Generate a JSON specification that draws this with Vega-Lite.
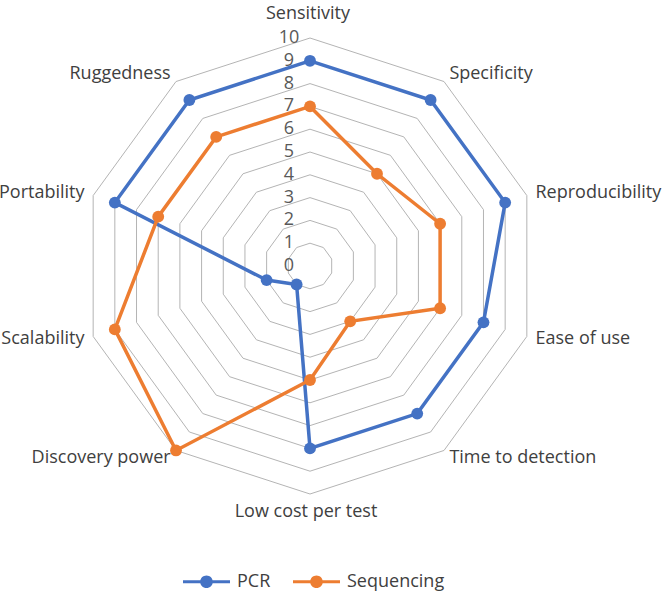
{
  "$schema": "https://vega.github.io/schema/vega-lite/v6.json",
  "width": 456,
  "height": 456,
  "autosize": "none",
  "padding": {"left": 82, "top": 38, "right": 128, "bottom": 102},
  "background": "white",
  "config": {"view": {"stroke": null}, "font": "Open Sans"},
  "datasets": {
    "scores": [
      {"axis": "Sensitivity", "series": "PCR", "value": 9},
      {"axis": "Specificity", "series": "PCR", "value": 9},
      {"axis": "Reproducibility", "series": "PCR", "value": 9},
      {"axis": "Ease of use", "series": "PCR", "value": 8},
      {"axis": "Time to detection", "series": "PCR", "value": 8},
      {"axis": "Low cost per test", "series": "PCR", "value": 8},
      {"axis": "Discovery power", "series": "PCR", "value": 1},
      {"axis": "Scalability", "series": "PCR", "value": 2},
      {"axis": "Portability", "series": "PCR", "value": 9},
      {"axis": "Ruggedness", "series": "PCR", "value": 9},
      {"axis": "Sensitivity", "series": "Sequencing", "value": 7},
      {"axis": "Specificity", "series": "Sequencing", "value": 5},
      {"axis": "Reproducibility", "series": "Sequencing", "value": 6},
      {"axis": "Ease of use", "series": "Sequencing", "value": 6},
      {"axis": "Time to detection", "series": "Sequencing", "value": 3},
      {"axis": "Low cost per test", "series": "Sequencing", "value": 5},
      {"axis": "Discovery power", "series": "Sequencing", "value": 10},
      {"axis": "Scalability", "series": "Sequencing", "value": 9},
      {"axis": "Portability", "series": "Sequencing", "value": 7},
      {"axis": "Ruggedness", "series": "Sequencing", "value": 7}
    ],
    "grid": [
      {"level": [1, 2, 3, 4, 5, 6, 7, 8, 9, 10],
       "axis": ["Sensitivity", "Specificity", "Reproducibility", "Ease of use", "Time to detection", "Low cost per test", "Discovery power", "Scalability", "Portability", "Ruggedness"]}
    ],
    "ticks": [
      {"level": 0}, {"level": 1}, {"level": 2}, {"level": 3}, {"level": 4}, {"level": 5},
      {"level": 6}, {"level": 7}, {"level": 8}, {"level": 9}, {"level": 10}
    ],
    "axes": [
      {"axis": "Sensitivity"}, {"axis": "Specificity"}, {"axis": "Reproducibility"}, {"axis": "Ease of use"},
      {"axis": "Time to detection"}, {"axis": "Low cost per test"}, {"axis": "Discovery power"},
      {"axis": "Scalability"}, {"axis": "Portability"}, {"axis": "Ruggedness"}
    ]
  },
  "layer": [
    {
      "data": {"name": "grid"},
      "transform": [
        {"flatten": ["level"]},
        {"flatten": ["axis"]},
        {"calculate": "indexof(['Sensitivity','Specificity','Reproducibility','Ease of use','Time to detection','Low cost per test','Discovery power','Scalability','Portability','Ruggedness'], datum.axis)", "as": "i"},
        {"calculate": "datum.level * sin(2 * PI * datum.i / 10)", "as": "x"},
        {"calculate": "datum.level * cos(2 * PI * datum.i / 10)", "as": "y"}
      ],
      "mark": {"type": "line", "interpolate": "linear-closed", "stroke": "#b4b4b4", "strokeWidth": 1},
      "encoding": {
        "x": {"field": "x", "type": "quantitative", "scale": {"domain": [-10, 10], "nice": false, "zero": false}, "axis": null},
        "y": {"field": "y", "type": "quantitative", "scale": {"domain": [-10, 10], "nice": false, "zero": false}, "axis": null},
        "detail": {"field": "level", "type": "nominal"},
        "order": {"field": "i", "type": "quantitative"}
      }
    },
    {
      "data": {"name": "ticks"},
      "mark": {"type": "text", "align": "center", "baseline": "middle", "dx": -21, "fontSize": 18, "color": "#595959"},
      "encoding": {
        "x": {"datum": 0, "type": "quantitative"},
        "y": {"field": "level", "type": "quantitative"},
        "text": {"field": "level", "type": "quantitative"}
      }
    },
    {
      "data": {"name": "scores"},
      "transform": [
        {"calculate": "indexof(['Sensitivity','Specificity','Reproducibility','Ease of use','Time to detection','Low cost per test','Discovery power','Scalability','Portability','Ruggedness'], datum.axis)", "as": "i"},
        {"calculate": "datum.value * sin(2 * PI * datum.i / 10)", "as": "x"},
        {"calculate": "datum.value * cos(2 * PI * datum.i / 10)", "as": "y"}
      ],
      "layer": [
        {
          "mark": {"type": "line", "interpolate": "linear-closed", "strokeWidth": 3.5},
          "encoding": {
            "x": {"field": "x", "type": "quantitative"},
            "y": {"field": "y", "type": "quantitative"},
            "color": {"field": "series", "type": "nominal", "scale": {"domain": ["PCR", "Sequencing"], "range": ["#4472C4", "#ED7D31"]}},
            "order": {"field": "i", "type": "quantitative"}
          }
        },
        {
          "mark": {"type": "circle", "size": 140, "opacity": 1},
          "encoding": {
            "x": {"field": "x", "type": "quantitative"},
            "y": {"field": "y", "type": "quantitative"},
            "color": {"field": "series", "type": "nominal",
              "legend": {"orient": "none", "direction": "horizontal", "legendX": 101, "legendY": 520, "title": null,
                "padding": 0,
                "symbolType": "M-1,-0.065L1,-0.065L1,0.065L-1,0.065ZM0.27,0A0.27,0.27,0,1,1,-0.27,0A0.27,0.27,0,1,1,0.27,0Z",
                "symbolSize": 2209, "symbolStrokeWidth": 0, "symbolOpacity": 1,
                "labelFontSize": 18, "labelColor": "#404040", "labelOffset": 7, "columnPadding": 22}}
          }
        }
      ]
    },
    {
      "data": {"name": "axes"},
      "transform": [
        {"calculate": "indexof(['Sensitivity','Specificity','Reproducibility','Ease of use','Time to detection','Low cost per test','Discovery power','Scalability','Portability','Ruggedness'], datum.axis)", "as": "i"},
        {"calculate": "10.4 * sin(2 * PI * datum.i / 10)", "as": "x"},
        {"calculate": "10.4 * cos(2 * PI * datum.i / 10)", "as": "y"}
      ],
      "layer": [
        {
          "transform": [{"filter": "datum.i == 0"}],
          "mark": {"type": "text", "align": "center", "baseline": "middle", "dy": -15, "dx": -2, "fontSize": 18, "color": "#404040"},
          "encoding": {"x": {"field": "x", "type": "quantitative"}, "y": {"field": "y", "type": "quantitative"}, "text": {"field": "axis"}}
        },
        {
          "transform": [{"filter": "datum.i == 5"}],
          "mark": {"type": "text", "align": "center", "baseline": "middle", "dy": 9, "dx": -4, "fontSize": 18, "color": "#404040"},
          "encoding": {"x": {"field": "x", "type": "quantitative"}, "y": {"field": "y", "type": "quantitative"}, "text": {"field": "axis"}}
        },
        {
          "transform": [{"filter": "datum.i >= 1 && datum.i <= 4"}],
          "mark": {"type": "text", "align": "left", "baseline": "middle", "fontSize": 18, "color": "#404040"},
          "encoding": {"x": {"field": "x", "type": "quantitative"}, "y": {"field": "y", "type": "quantitative"}, "text": {"field": "axis"}}
        },
        {
          "transform": [{"filter": "datum.i >= 6"}],
          "mark": {"type": "text", "align": "right", "baseline": "middle", "fontSize": 18, "color": "#404040"},
          "encoding": {"x": {"field": "x", "type": "quantitative"}, "y": {"field": "y", "type": "quantitative"}, "text": {"field": "axis"}}
        }
      ]
    }
  ]
}
